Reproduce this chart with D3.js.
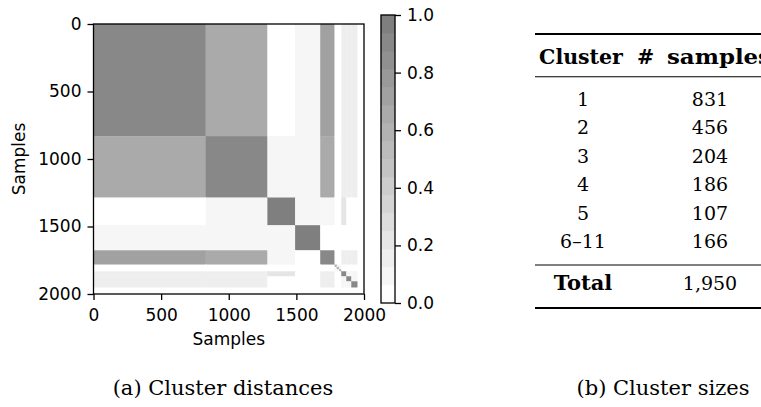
<!DOCTYPE html>
<html>
<head>
<meta charset="utf-8">
<script src="https://cdn.jsdelivr.net/npm/d3@7"></script>
<style>
body { margin: 0; background: #fff; }
</style>
</head>
<body>
<script>

// cluster sizes in sample order (clusters 1..11)
var clusterSizes = [831, 456, 204, 186, 107, 16, 17, 16, 37, 37, 43];
// mean similarity between clusters (read by eye, symmetric)
var similarity = [
  [0.90, 0.68, 0.02, 0.08, 0.70, 0.03, 0.03, 0.03, 0.17, 0.17, 0.17],
  [0.68, 0.88, 0.08, 0.09, 0.66, 0.03, 0.03, 0.03, 0.15, 0.17, 0.17],
  [0.02, 0.08, 1.00, 0.07, 0.07, 0.05, 0.05, 0.05, 0.22, 0.04, 0.04],
  [0.08, 0.09, 0.07, 1.00, 0.03, 0.02, 0.02, 0.02, 0.03, 0.03, 0.03],
  [0.70, 0.66, 0.07, 0.03, 0.93, 0.04, 0.04, 0.04, 0.17, 0.15, 0.15],
  [0.03, 0.03, 0.05, 0.02, 0.04, 0.60, 0.10, 0.10, 0.05, 0.05, 0.05],
  [0.03, 0.03, 0.05, 0.02, 0.04, 0.10, 0.60, 0.10, 0.05, 0.05, 0.05],
  [0.03, 0.03, 0.05, 0.02, 0.04, 0.10, 0.10, 0.60, 0.05, 0.05, 0.05],
  [0.17, 0.15, 0.22, 0.03, 0.17, 0.05, 0.05, 0.05, 0.93, 0.10, 0.10],
  [0.17, 0.17, 0.04, 0.03, 0.15, 0.05, 0.05, 0.05, 0.10, 0.93, 0.12],
  [0.17, 0.17, 0.04, 0.03, 0.15, 0.05, 0.05, 0.05, 0.10, 0.12, 0.93]
];
var axisTicks = [0, 500, 1000, 1500, 2000];
var colorTicks = [0, 0.2, 0.4, 0.6, 0.8, 1.0];
var tableLabels = ["1", "2", "3", "4", "5", "6\u201311"];
var nLevels = 16;

var w = 761, h = 407;
var svg = d3.select("body").append("svg")
    .attr("width", w)
    .attr("height", h);

// cumulative starts
var starts = [];
var acc = 0;
for (var i = 0; i < clusterSizes.length; i++) {
  starts.push(acc);
  acc += clusterSizes[i];
}

var x = d3.scaleLinear().domain([0, 2000]).range([93.5, 364]);
var y = d3.scaleLinear().domain([0, 2000]).range([24, 294]);

var levels = d3.range(nLevels).map(function(k) {
  return d3.interpolateRgb("#ffffff", "#7f7f7f")(k / (nLevels - 1));
});
var color = d3.scaleQuantize().domain([0, 1]).range(levels);

var cells = [];
for (var r = 0; r < clusterSizes.length; r++) {
  for (var c = 0; c < clusterSizes.length; c++) {
    cells.push({r: r, c: c, v: similarity[r][c]});
  }
}

svg.append("g").selectAll("rect")
    .data(cells)
    .enter()
    .append("rect")
    .attr("x", function(d) { return x(starts[d.c]); })
    .attr("y", function(d) { return y(starts[d.r]); })
    .attr("width", function(d) { return x(starts[d.c] + clusterSizes[d.c]) - x(starts[d.c]); })
    .attr("height", function(d) { return y(starts[d.r] + clusterSizes[d.r]) - y(starts[d.r]); })
    .attr("fill", function(d) { return color(d.v); })
    .attr("stroke", function(d) { return color(d.v); })
    .attr("stroke-width", 0.3);

// frame
svg.append("rect")
    .attr("x", x(0)).attr("y", y(0))
    .attr("width", x(2000) - x(0)).attr("height", y(2000) - y(0))
    .attr("fill", "none").attr("stroke", "#000").attr("stroke-width", 1.3);

var sans = "DejaVu Sans, sans-serif";

var gx = svg.append("g")
    .attr("transform", "translate(0," + y(2000) + ")")
    .call(d3.axisBottom(x).tickValues(axisTicks).tickSize(6).tickPadding(8.5).tickFormat(d3.format("d")));
var gy = svg.append("g")
    .attr("transform", "translate(" + x(0) + ",0)")
    .call(d3.axisLeft(y).tickValues(axisTicks).tickSize(6).tickPadding(6).tickFormat(d3.format("d")));

[gx, gy].forEach(function(g) {
  g.select(".domain").remove();
  g.selectAll("line").attr("stroke", "#000").attr("stroke-width", 1.3);
  g.selectAll("text").attr("font-family", sans).attr("font-size", 17).attr("fill", "#000");
});

svg.append("text")
    .attr("x", (x(0) + x(2000)) / 2).attr("y", 345)
    .attr("text-anchor", "middle")
    .attr("font-family", sans).attr("font-size", 17)
    .text("Samples");

svg.append("text")
    .attr("transform", "translate(24.5," + (y(0) + y(2000)) / 2 + ") rotate(-90)")
    .attr("text-anchor", "middle")
    .attr("font-family", sans).attr("font-size", 17)
    .text("Samples");

// colorbar
var cb = d3.scaleLinear().domain([0, 1]).range([303, 15]);
var cbX = 381, cbW = 14;
svg.append("g").selectAll("rect")
    .data(levels)
    .enter()
    .append("rect")
    .attr("x", cbX)
    .attr("y", function(d, i) { return cb((i + 1) / nLevels); })
    .attr("width", cbW)
    .attr("height", function(d, i) { return cb(i / nLevels) - cb((i + 1) / nLevels); })
    .attr("fill", function(d) { return d; })
    .attr("stroke", function(d) { return d; })
    .attr("stroke-width", 0.3);
svg.append("rect")
    .attr("x", cbX).attr("y", cb(1))
    .attr("width", cbW).attr("height", cb(0) - cb(1))
    .attr("fill", "none").attr("stroke", "#000").attr("stroke-width", 1.3);

var gc = svg.append("g")
    .attr("transform", "translate(" + (cbX + cbW) + ",0)")
    .call(d3.axisRight(cb).tickValues(colorTicks).tickSize(6).tickPadding(6).tickFormat(d3.format(".1f")));
gc.select(".domain").remove();
gc.selectAll("line").attr("stroke", "#000").attr("stroke-width", 1.3);
gc.selectAll("text").attr("font-family", sans).attr("font-size", 17).attr("fill", "#000");

// table
var serif = "DejaVu Serif, serif";
var tableCounts = clusterSizes.slice(0, 5);
tableCounts.push(d3.sum(clusterSizes.slice(5)));
var total = d3.sum(clusterSizes);
var col1 = 583, col2 = 710;
var tLeft = 535, tRight = 800;

svg.append("line").attr("x1", tLeft).attr("x2", tRight).attr("y1", 34).attr("y2", 34)
    .attr("stroke", "#000").attr("stroke-width", 1.8);
svg.append("line").attr("x1", tLeft).attr("x2", tRight).attr("y1", 76.7).attr("y2", 76.7)
    .attr("stroke", "#000").attr("stroke-width", 1.1);
svg.append("line").attr("x1", tLeft).attr("x2", tRight).attr("y1", 265).attr("y2", 265)
    .attr("stroke", "#000").attr("stroke-width", 1.1);
svg.append("line").attr("x1", tLeft).attr("x2", tRight).attr("y1", 308).attr("y2", 308)
    .attr("stroke", "#000").attr("stroke-width", 1.8);

svg.append("text").attr("x", 581).attr("y", 63.5)
    .attr("text-anchor", "middle")
    .attr("font-family", serif).attr("font-size", 20.5).attr("font-weight", "bold")
    .text("Cluster");
svg.append("text").attr("x", 637).attr("y", 63.5)
    .attr("text-anchor", "start")
    .attr("font-family", serif).attr("font-size", 20.5).attr("font-weight", "bold")
    .text("#");
svg.append("text").attr("x", 667).attr("y", 63.5)
    .attr("text-anchor", "start")
    .attr("font-family", serif).attr("font-size", 20.5).attr("font-weight", "bold")
    .attr("textLength", 104).attr("lengthAdjust", "spacingAndGlyphs")
    .text("samples");

var rows = svg.append("g").selectAll("g")
    .data(tableLabels)
    .enter()
    .append("g")
    .attr("transform", function(d, i) { return "translate(0," + (105.7 + i * 28.5) + ")"; });
rows.append("text")
    .attr("x", col1).attr("text-anchor", "middle")
    .attr("font-family", serif).attr("font-size", 19)
    .text(function(d) { return d; });
rows.append("text")
    .attr("x", col2).attr("text-anchor", "middle")
    .attr("font-family", serif).attr("font-size", 19)
    .text(function(d, i) { return tableCounts[i]; });

svg.append("text").attr("x", col1).attr("y", 289.5)
    .attr("text-anchor", "middle")
    .attr("font-family", serif).attr("font-size", 21).attr("font-weight", "bold")
    .text("Total");
svg.append("text").attr("x", col2).attr("y", 289.5)
    .attr("text-anchor", "middle")
    .attr("font-family", serif).attr("font-size", 19)
    .text(d3.format(",")(total));

// captions
svg.append("text").attr("x", 223).attr("y", 395)
    .attr("text-anchor", "middle")
    .attr("font-family", serif).attr("font-size", 21)
    .text("(a) Cluster distances");
svg.append("text").attr("x", 663).attr("y", 395)
    .attr("text-anchor", "middle")
    .attr("font-family", serif).attr("font-size", 21)
    .text("(b) Cluster sizes");

</script>
</body>
</html>
